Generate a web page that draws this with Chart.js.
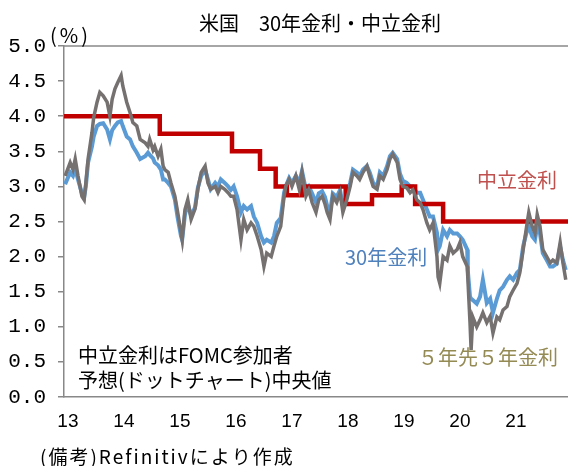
<!DOCTYPE html>
<html><head><meta charset="utf-8">
<script src="https://cdn.jsdelivr.net/npm/chart.js@4"></script>
<style>html,body{margin:0;padding:0;background:#fff}#wrap{width:568px;height:466px;position:relative}</style>
</head><body><div id="wrap"><canvas id="c" width="568" height="466"></canvas></div>
<script>
// decimal years
const dates = [2012.95,2013.04,2013.09,2013.13,2013.18,2013.25,2013.29,2013.32,2013.36,2013.43,2013.46,2013.52,2013.57,2013.63,2013.70,2013.75,2013.79,2013.84,2013.89,2013.95,2013.98,2014.05,2014.11,2014.16,2014.23,2014.29,2014.38,2014.43,2014.46,2014.52,2014.55,2014.61,2014.66,2014.70,2014.73,2014.79,2014.84,2014.91,2014.96,2015.02,2015.04,2015.09,2015.14,2015.20,2015.27,2015.32,2015.38,2015.45,2015.50,2015.55,2015.63,2015.68,2015.73,2015.80,2015.86,2015.91,2015.96,2016.02,2016.09,2016.14,2016.20,2016.27,2016.32,2016.38,2016.45,2016.50,2016.55,2016.63,2016.68,2016.73,2016.80,2016.86,2016.89,2016.95,2017.00,2017.07,2017.13,2017.18,2017.25,2017.30,2017.36,2017.43,2017.48,2017.54,2017.59,2017.63,2017.68,2017.73,2017.80,2017.86,2017.91,2017.98,2018.04,2018.09,2018.16,2018.21,2018.27,2018.34,2018.39,2018.45,2018.52,2018.57,2018.63,2018.70,2018.75,2018.80,2018.88,2018.93,2018.98,2019.05,2019.11,2019.16,2019.23,2019.29,2019.34,2019.41,2019.46,2019.52,2019.59,2019.61,2019.64,2019.70,2019.77,2019.82,2019.88,2019.95,2020.00,2020.05,2020.13,2020.14,2020.18,2020.20,2020.23,2020.30,2020.36,2020.41,2020.48,2020.54,2020.59,2020.66,2020.71,2020.77,2020.84,2020.89,2020.95,2021.02,2021.07,2021.13,2021.20,2021.23,2021.29,2021.34,2021.38,2021.43,2021.48,2021.55,2021.61,2021.66,2021.73,2021.79,2021.84,2021.89];
const rate30y = [3.03,3.20,3.15,3.25,3.10,2.90,2.85,3.00,3.34,3.57,3.71,3.86,3.89,3.90,3.81,3.67,3.80,3.86,3.91,3.93,3.86,3.71,3.67,3.57,3.48,3.39,3.43,3.48,3.45,3.40,3.34,3.30,3.24,3.10,3.10,3.05,3.00,2.81,2.55,2.29,2.24,2.60,2.75,2.58,2.70,2.98,3.15,3.24,3.10,2.96,3.05,3.00,3.10,3.05,3.00,2.95,3.00,2.86,2.63,2.72,2.67,2.72,2.57,2.48,2.29,2.20,2.24,2.20,2.29,2.48,2.55,2.91,3.00,3.12,3.05,3.15,3.05,3.22,2.95,3.00,2.90,2.77,2.90,2.93,2.85,2.72,2.63,2.90,2.85,2.95,2.72,2.86,3.05,3.24,3.20,3.15,3.24,3.29,3.20,3.05,3.00,3.20,3.15,3.29,3.43,3.48,3.39,3.18,3.08,3.05,3.00,3.00,2.91,2.91,2.81,2.67,2.57,2.57,2.34,2.10,2.15,2.38,2.29,2.38,2.33,2.33,2.29,2.24,2.10,1.81,1.43,1.40,1.38,1.33,1.43,1.67,1.34,1.40,1.20,1.40,1.52,1.57,1.67,1.72,1.67,1.77,1.81,2.15,2.38,2.43,2.29,2.24,2.43,2.33,2.05,1.95,1.86,1.86,1.90,2.14,1.95,1.81];
const fwd5y5y = [3.15,3.34,3.24,3.39,3.15,2.86,2.81,3.05,3.39,3.77,3.98,4.20,4.34,4.29,4.20,4.00,4.24,4.39,4.48,4.58,4.43,4.20,4.05,3.91,3.86,3.67,3.62,3.57,3.67,3.52,3.57,3.43,3.53,3.29,3.24,3.20,3.05,2.86,2.63,2.34,2.24,2.67,2.81,2.53,2.68,2.96,3.20,3.29,3.05,2.96,3.00,2.91,3.00,2.96,2.91,2.86,2.86,2.67,2.24,2.53,2.38,2.48,2.43,2.29,2.10,1.86,2.05,2.00,2.15,2.29,2.43,2.86,3.00,3.10,3.00,3.15,2.96,3.20,2.86,2.95,2.77,2.63,2.81,2.86,2.75,2.63,2.53,2.86,2.77,2.91,2.63,2.81,3.00,3.20,3.15,3.10,3.20,3.29,3.15,3.00,2.96,3.15,3.10,3.24,3.39,3.46,3.34,3.10,3.00,2.98,2.91,2.95,2.81,2.77,2.67,2.48,2.38,2.48,2.00,1.71,1.62,2.00,1.95,2.15,2.05,2.10,2.20,2.00,1.86,1.71,1.06,0.67,1.14,1.00,1.10,1.20,1.06,1.15,0.91,1.14,1.10,1.24,1.29,1.43,1.52,1.62,1.77,2.10,2.48,2.63,2.43,2.33,2.60,2.43,2.10,2.00,1.91,1.95,1.91,2.20,1.91,1.67];
const neutralDates = [2012.93,2014.64,2015.93,2016.43,2016.71,2016.91,2017.18,2017.96,2018.43,2018.96,2019.20,2019.70,2021.93];
const neutralRate  = [4.00,3.75,3.50,3.25,3.00,2.875,3.00,2.75,2.875,3.00,2.75,2.50,2.50];
const yearTicks = [2013,2014,2015,2016,2017,2018,2019,2020,2021];
const valueTicks = [0,0.5,1,1.5,2,2.5,3,3.5,4,4.5,5];

const JP = '"Noto Sans CJK JP","Noto Sans",sans-serif';
const textPlugin = {
  id: 'texts',
  afterDraw(chart) {
    const ctx = chart.ctx, a = chart.chartArea;
    ctx.save();
    ctx.strokeStyle = '#888'; ctx.lineWidth = 1.5;
    ctx.beginPath(); ctx.moveTo(a.left, a.top); ctx.lineTo(a.right, a.top); ctx.stroke();
    ctx.textBaseline = 'middle';
    ctx.fillStyle = '#000';
    ctx.font = '20px ' + JP; ctx.textAlign = 'center';
    ctx.fillText('米国　30年金利・中立金利', 320, 23);
    ctx.textAlign = 'left';
    ctx.font = '20px ' + JP;
    ctx.letterSpacing = '3px';
    ctx.fillText('(%)', 50, 35);
    ctx.letterSpacing = '0px';
    ctx.fillText('中立金利はFOMC参加者', 78, 355);
    ctx.fillText('予想(ドットチャート)中央値', 78, 380);
    ctx.font = '19px ' + JP;
    ctx.letterSpacing = '2px';
    ctx.fillText('(備考)Refinitivにより作成', 40, 457);
    ctx.letterSpacing = '0px';
    ctx.font = '20px ' + JP;
    ctx.fillStyle = '#C0504D'; ctx.fillText('中立金利', 477, 180);
    ctx.fillStyle = '#4F81BD'; ctx.fillText('30年金利', 345, 257);
    ctx.fillStyle = '#948A54'; ctx.fillText('５年先５年金利', 418, 357);
    ctx.restore();
  }
};

new Chart(document.getElementById('c'), {
  type: 'line',
  data: {
    datasets: [
      { label: '5年先5年金利', data: dates.map((d,i)=>({x:d,y:fwd5y5y[i]})), borderColor: '#767171', borderWidth: 3.5, pointRadius: 0, tension: 0, order: 0 },
      { label: '中立金利', data: neutralDates.map((d,i)=>({x:d,y:neutralRate[i]})), borderColor: '#C00000', borderWidth: 4.5, pointRadius: 0, stepped: 'before', order: 1 },
      { label: '30年金利', data: dates.map((d,i)=>({x:d,y:rate30y[i]})), borderColor: '#5B9BD5', borderWidth: 4, pointRadius: 0, tension: 0, order: 2 }
    ]
  },
  options: {
    responsive: false, animation: false, devicePixelRatio: 1,
    layout: { padding: { top: 46, left: 0, right: 0, bottom: 0 } },
    plugins: { legend: { display: false }, tooltip: { enabled: false }, title: { display: false } },
    scales: {
      x: {
        type: 'linear', min: 2012.93, max: 2021.93,
        afterBuildTicks: s => { s.ticks = yearTicks.map(v => ({ value: v })); },
        afterFit: s => { s.height = 69; },
        ticks: { callback: v => String(v - 2000), color: '#000', padding: 13, maxRotation: 0, autoSkip: false,
                 font: { family: '"Liberation Sans Narrow","Liberation Sans",sans-serif', size: 19 } },
        grid: { display: false, drawTicks: false },
        border: { display: true, color: '#888', width: 1.5 }
      },
      y: {
        min: 0, max: 5,
        afterBuildTicks: s => { s.ticks = valueTicks.map(v => ({ value: v })); },
        afterFit: s => { s.width = 64; },
        ticks: { callback: v => Number(v).toFixed(1), color: '#000', padding: 12,
                 font: { family: '"Liberation Mono",monospace', size: 21 } },
        grid: { drawOnChartArea: false, drawTicks: true, tickLength: 6, color: '#888', lineWidth: 1.5 },
        border: { display: true, color: '#888', width: 1.5 }
      }
    }
  },
  plugins: [textPlugin]
});
</script></body></html>
